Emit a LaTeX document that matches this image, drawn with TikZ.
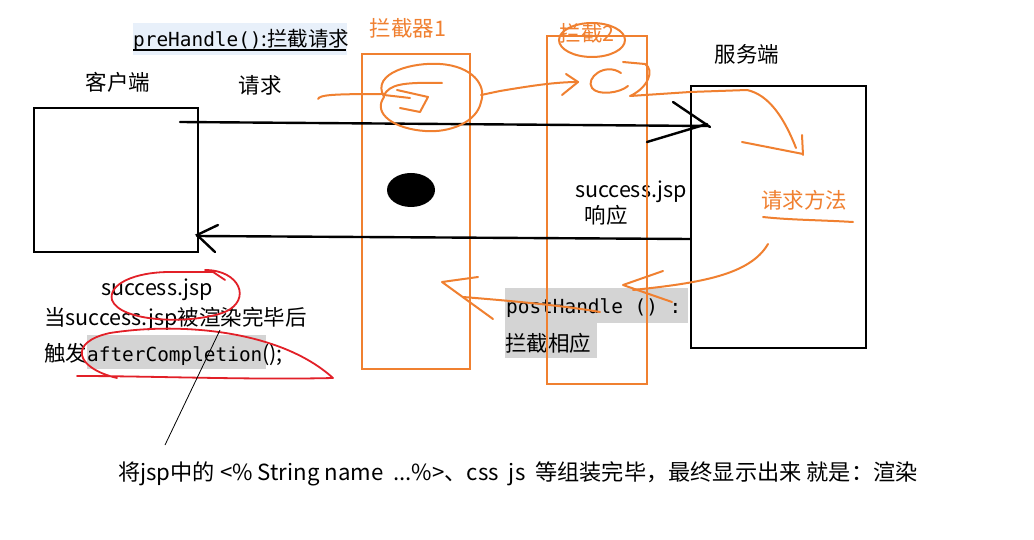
\documentclass[tikz,border=0pt]{standalone}
\usepackage{fontspec}
\setmainfont{Noto Sans CJK SC}
\setmonofont{DejaVu Sans Mono}
\usetikzlibrary{shapes.geometric}
\definecolor{ora}{RGB}{240,128,48}
\definecolor{redpen}{RGB}{226,32,40}
\definecolor{graybg}{RGB}{212,212,212}
\definecolor{bluebg}{RGB}{232,240,250}
\begin{document}
\begin{tikzpicture}[x=1pt,y=-1pt,
  box/.style={draw=black,line width=2.4pt,inner sep=0pt,anchor=north west},
  ibox/.style={draw=ora,line width=2.4pt,inner sep=0pt,anchor=north west},
  pen/.style={draw=ora,line width=2pt,line cap=round,line join=round},
  redp/.style={draw=redpen,line width=1.8pt,line cap=round,line join=round},
  blk/.style={draw=black,line width=2.4pt,line cap=round},
  lbl/.style={inner sep=0pt,anchor=base,font=\fontsize{21.5}{24}\selectfont},
  olbl/.style={lbl,text=ora},
  mono/.style={inner sep=0pt,font=\fontsize{19.4}{22}\selectfont\ttfamily}]
\fill[white] (0,0) rectangle (1034,540);
\useasboundingbox (0,0) rectangle (1034,540);

% backgrounds
\fill[bluebg] (133,23) rectangle (347,55);
\fill[graybg] (87,335) rectangle (266,369);
\node[fill=graybg,inner sep=0pt,anchor=north west,minimum width=183pt,minimum height=35pt] (phbg) at (505,288) {};
\node[fill=graybg,inner sep=0pt,anchor=north west,minimum width=92pt,minimum height=35pt] (rsbg) at (505,323) {};

% texts
\node[lbl,anchor=base west,font=\fontsize{20.5}{22}\selectfont] (pre) at (133,47) {{\ttfamily\fontsize{19.4}{22}\selectfont preHandle()}:拦截请求};
\draw[line width=1.4pt] (133,50) -- (346,50);
\node[lbl] (kehu) at (118,91) {客户端};
\node[lbl] (qq) at (260,94) {请求};
\node[lbl] (fuwu) at (747,63) {服务端};
\node[olbl] (lj1) at (408,37) {拦截器1};
\node[olbl] (lj2) at (587,42) {拦截2};
\node[lbl] (succ) at (631,198) {success.jsp};
\node[lbl] (xy) at (606,224) {响应};
\node[olbl] (qqff) at (804,209) {请求方法};
\node[mono,anchor=base west] (post) at (506,313) {postHandle () :};
\node[lbl,anchor=base west] (ljxy) at (505,351) {拦截相应};
\node[lbl] (succ2) at (157,295) {success.jsp};
\node[lbl,anchor=base west] (dang) at (44,326) {当success.jsp被渲染完毕后};
\node[lbl,anchor=base west] (chufa) at (44,361) {触发{\ttfamily\fontsize{19.4}{22}\selectfont afterCompletion}();};
\node[lbl,font=\fontsize{22.2}{24}\selectfont] (note) at (518,480) {将jsp中的 <\% String name~~...\%>、css~~js~~等组装完毕，最终显示出来 就是：渲染};

% boxes
\node[box,minimum width=164pt,minimum height=144pt] (client) at (33,107) {};
\node[box,minimum width=175pt,minimum height=262pt] (server) at (690,85) {};
\node[ibox,minimum width=108pt,minimum height=315pt] (ic1) at (361,53) {};
\node[ibox,minimum width=100pt,minimum height=348pt] (ic2) at (546,35) {};

% black dot
\node[fill=black,ellipse,inner sep=0pt,minimum width=48pt,minimum height=34pt] (dot) at (411,190) {};

% request / response
\coordinate (reqS) at (180,122);
\coordinate (reqE) at (708,126);
\draw[blk] (reqS) -- (reqE);
\draw[blk] (673,102) -- (710,127);
\draw[blk] (647,142) -- (707,124);
\coordinate (resS) at (690,239);
\coordinate (resE) at (197,236);
\draw[blk] (resS) -- (resE);
\draw[blk] (218,225) -- (197,235) -- (215,252);

% orange scribbles, interceptor 1
\draw[pen] (318,99) .. controls (320,95) and (330,94) .. (384,94);
\draw[pen] (384,97) .. controls (370,72) and (415,62) .. (440,64) .. controls (472,66) and (487,85) .. (481,102) .. controls (477,122) and (450,133) .. (425,131) .. controls (395,129) and (372,114) .. (384,97);
\draw[pen] (384,95) .. controls (390,85) and (400,82) .. (442,83);
\draw[pen] (384,95) -- (410,98);
\draw[pen] (397,90) -- (428,97) -- (420,112) -- (400,108);
\draw[pen] (481,95) -- (500,91) .. controls (530,86) and (555,82) .. (578,82);
\draw[pen] (566,74) -- (578,82) -- (562,95);

% interceptor 2 scribbles
\draw[pen] (592,40) ellipse [x radius=33, y radius=17];
\draw[pen] (621,73) .. controls (605,62) and (585,78) .. (592,88) .. controls (598,96) and (620,93) .. (628,86);
\draw[pen] (623,62) -- (645,64) .. controls (655,70) and (648,88) .. (630,96) -- (690,92) -- (747,90) .. controls (770,95) and (785,120) .. (796,148);
\draw[pen] (802,135) -- (803,155);
\draw[pen] (742,142) -- (803,154);
\draw[pen] (763,217) .. controls (790,220) and (820,220) .. (853,222);

% return arrows
\draw[pen] (768,244) .. controls (750,275) and (700,283) .. (633,290);
\draw[pen] (663,271) -- (623,285) -- (672,302);
\draw[pen] (600,312) .. controls (560,305) and (500,300) .. (463,297);
\draw[pen] (478,277) -- (442,282) -- (493,319);

% red marks
\draw[redp] (205,270) .. controls (240,270) and (252,300) .. (225,312) .. controls (190,325) and (120,322) .. (112,300) .. controls (108,284) and (135,272) .. (170,272) -- (213,272) -- (225,280);
\draw[redp] (117,378) .. controls (75,368) and (68,342) .. (110,333) .. controls (180,322) and (280,330) .. (333,378) .. controls (250,380) and (150,376) .. (77,376);

% thin line
\coordinate (tl1) at (220,330);
\coordinate (tl2) at (165,445);
\draw[line width=0.8pt] (tl1) -- (tl2);
\end{tikzpicture}
\end{document}
